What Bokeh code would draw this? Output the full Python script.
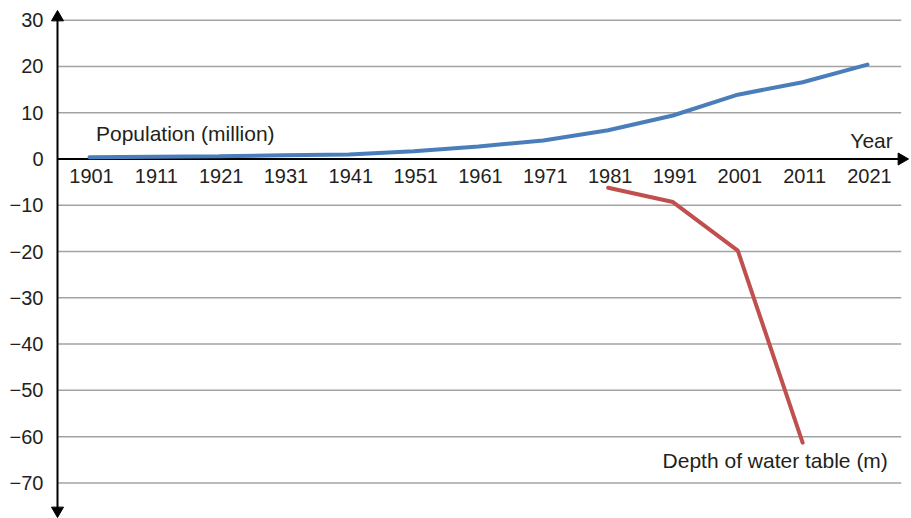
import math
from bokeh.plotting import figure
from bokeh.models import Range1d, LinearAxis, FixedTicker, ColumnDataSource
from bokeh.core.properties import value
from bokeh.embed import file_html
from bokeh.resources import INLINE

# ---- data ----
years = ["1901", "1911", "1921", "1931", "1941", "1951", "1961", "1971", "1981", "1991", "2001", "2011", "2021"]
population = [0.4, 0.5, 0.6, 0.8, 1.0, 1.7, 2.7, 4.0, 6.2, 9.4, 13.9, 16.6, 20.4]
water_years = ["1981", "1991", "2001", "2011"]
water_depth = [-6.2, -9.3, -19.8, -61.3]
y_ticks = [-70, -60, -50, -40, -30, -20, -10, 0, 10, 20, 30]

FONT = "Liberation Sans"
TXT = "#231f20"

W, H = 909, 518
FRAME_LEFT = 47   # frame starts left of the drawn y axis
AXIS_X = 57       # pixel of the drawn y axis
PX_X = 64.83      # pixels per category
PX_Y = 4.627      # pixels per unit
TSHIFT = 8 / PX_Y # text baseline correction

idx = {y: i for i, y in enumerate(years)}
x_frame_left = -(89 - FRAME_LEFT) / PX_X
x_axis = -(89 - AXIS_X) / PX_X
x_right = x_frame_left + (W - FRAME_LEFT) / PX_X
y_top = 30 + 19.7 / PX_Y
y_bottom = y_top - H / PX_Y

p = figure(width=W, height=H, output_backend="svg", toolbar_location=None,
           x_range=Range1d(x_frame_left, x_right), y_range=Range1d(y_bottom, y_top),
           min_border_left=FRAME_LEFT, min_border_right=0, min_border_top=0, min_border_bottom=0,
           x_axis_type=None, y_axis_type=None)
p.outline_line_color = None
p.grid.visible = False
p.background_fill_color = "white"
p.border_fill_color = "white"

# y axis labels
yax = LinearAxis(ticker=FixedTicker(ticks=y_ticks),
                 major_label_overrides={t: str(t).replace("-", "\u2212") for t in y_ticks})
yax.axis_line_color = None
yax.major_tick_line_color = None
yax.minor_tick_line_color = None
yax.major_tick_out = 0
yax.major_tick_in = 0
yax.major_label_standoff = 4
yax.major_label_text_font = FONT
yax.major_label_text_font_size = "20px"
yax.major_label_text_color = TXT
p.add_layout(yax, "left")

# gridlines
grid_ys = [t for t in y_ticks if t != 0]
grid_end = (900.7 - 89) / PX_X
p.segment(x0=[x_axis] * len(grid_ys), x1=[grid_end] * len(grid_ys), y0=grid_ys, y1=grid_ys,
          line_color="#a3a3a3", line_width=1.5)

# axis lines with arrow heads
top_tip = y_top - 10 / PX_Y
bot_tip = y_top - 517 / PX_Y
right_tip = x_frame_left + (908 - FRAME_LEFT) / PX_X
p.segment(x0=[x_axis], x1=[x_axis], y0=[bot_tip + 8 / PX_Y], y1=[top_tip - 8 / PX_Y],
          line_color="black", line_width=2)
p.segment(x0=[x_axis], x1=[right_tip - 8 / PX_X], y0=[0], y1=[0], line_color="black", line_width=2)
p.scatter(x=[x_axis], y=[top_tip - 6.9 / PX_Y], marker="triangle", size=12,
          fill_color="black", line_color="black")
p.scatter(x=[x_axis], y=[bot_tip + 6.9 / PX_Y], marker="inverted_triangle", size=12,
          fill_color="black", line_color="black")
p.scatter(x=[right_tip - 6.9 / PX_X], y=[0], marker="triangle", size=12, angle=-math.pi / 2,
          fill_color="black", line_color="black")

# x tick labels along the zero line
src_x = ColumnDataSource(dict(x=list(range(len(years))), y=[-5.36 + TSHIFT] * len(years), t=years))
p.text(x="x", y="y", text="t", source=src_x, text_align="center", text_baseline="alphabetic",
       x_offset=2, text_font=value(FONT), text_font_size="20px", text_color=TXT)

# series
p.line([idx[y] for y in years], population, line_color="#4a7ebb", line_width=4, line_cap="round")
p.line([idx[y] for y in water_years], water_depth, line_color="#c0504d", line_width=4, line_cap="round")

# annotations
p.text(x=[0.10], y=[3.78 + TSHIFT], text=["Population (million)"], text_align="left",
       text_baseline="alphabetic", text_font=value(FONT), text_font_size="21px", text_color=TXT)
p.text(x=[12.39], y=[2.2 + TSHIFT], text=["Year"], text_align="right",
       text_baseline="alphabetic", text_font=value(FONT), text_font_size="21px", text_color=TXT)
p.text(x=[8.84], y=[-66.95 + TSHIFT], text=["Depth of water table (m)"], text_align="left",
       text_baseline="alphabetic", text_font=value(FONT), text_font_size="21px", text_color=TXT)

open("out.html", "w").write(file_html(p, INLINE))
